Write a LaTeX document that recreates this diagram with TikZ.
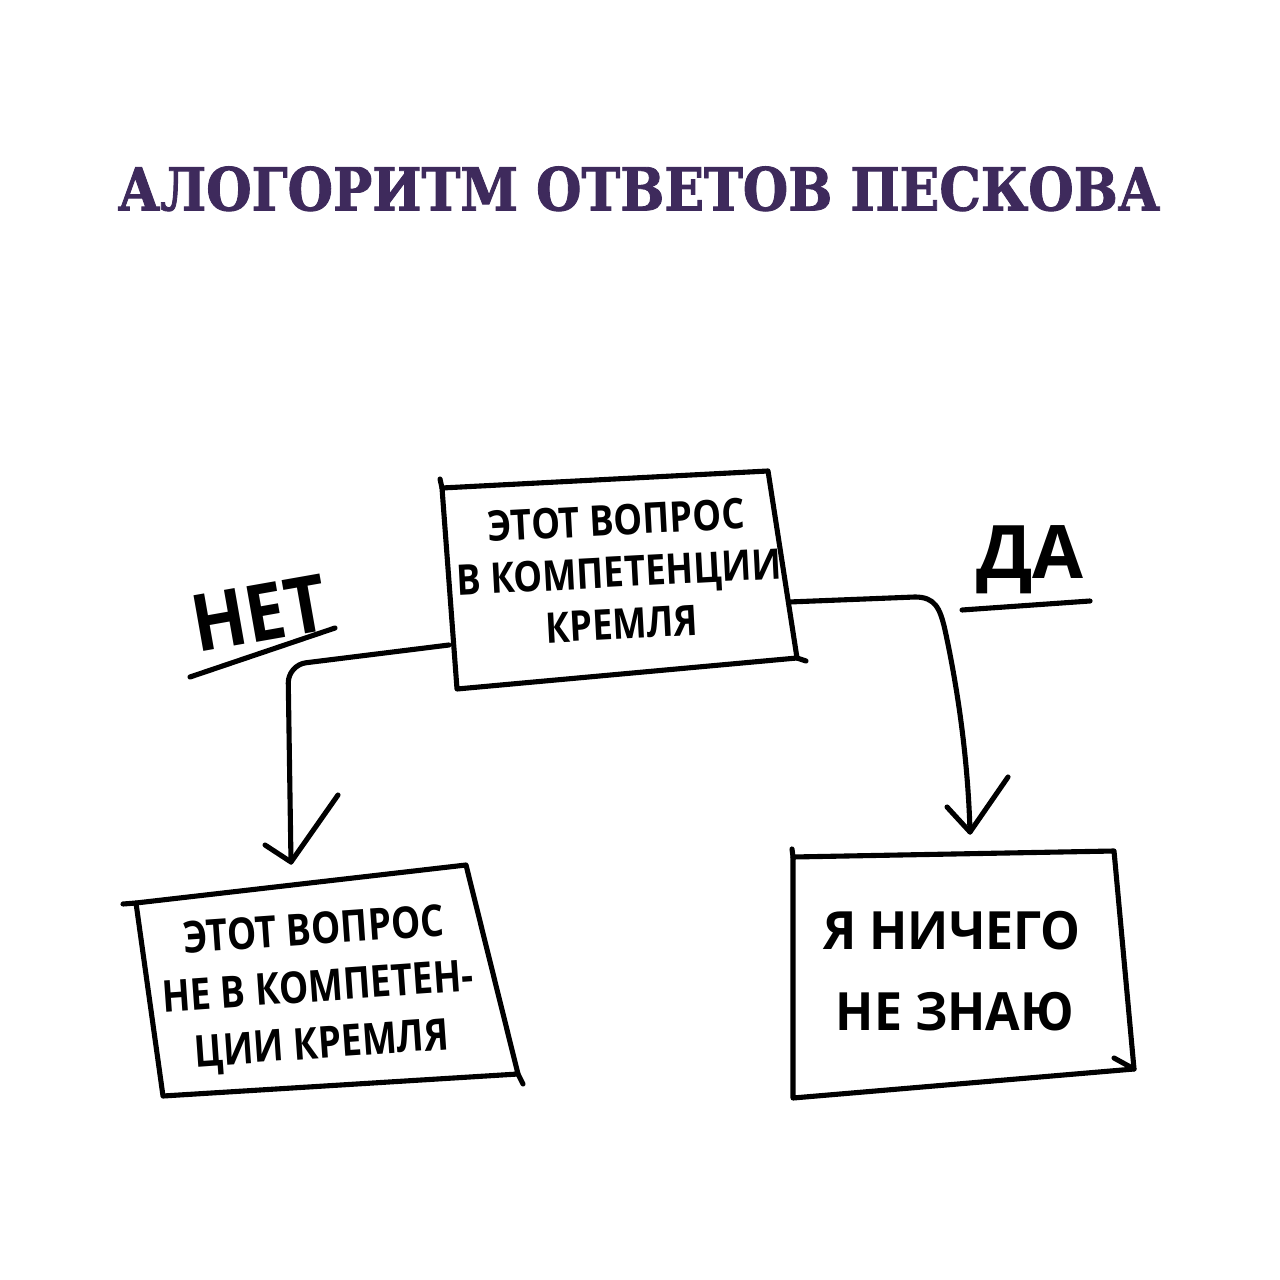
\documentclass[tikz,border=0pt]{standalone}
\usepackage{fontspec}
\usepackage{graphicx}
\newfontfamily\titlefont[FakeBold=1.5]{DejaVu Serif Condensed}
\newfontfamily\hand{Open Sans}
\definecolor{titlecol}{HTML}{3E2A5C}
\tikzset{
  x=0.01cm, y=-0.01cm,
  box/.style={line width=1.45pt, line cap=round, line join=round},
  link/.style={line width=1.45pt, line cap=round, line join=round},
  hw/.style={inner sep=0pt, align=center, font=\hand\bfseries},
}
\begin{document}
\begin{tikzpicture}
\useasboundingbox (0,0) rectangle (1280,1280);
% title
\node[inner sep=0pt, text=titlecol, anchor=south] (title) at (639,212)
  {\resizebox{10.42cm}{0.44cm}{\titlefont\bfseries АЛОГОРИТМ ОТВЕТОВ ПЕСКОВА}};

% top box
\coordinate (qTL) at (442,488); \coordinate (qTR) at (768,471);
\coordinate (qBR) at (797,658); \coordinate (qBL) at (457,689);
\draw[box] (qTL) -- (qTR) -- (qBR) -- (qBL) -- cycle;
\draw[box] (qTL) -- (440,479);
\draw[box] (qBR) -- (806,661);
\node[hw, rotate=3, xscale=0.86, font=\hand\bfseries\fontsize{12}{14.8}\selectfont] (q) at (619,572)
  {ЭТОТ ВОПРОС\\В КОМПЕТЕНЦИИ\\КРЕМЛЯ};
\coordinate (qL) at (449,645);
\coordinate (qR) at (789,602);

% left box
\coordinate (nTL) at (136,903); \coordinate (nTR) at (466,865);
\coordinate (nBR) at (518,1074); \coordinate (nBL) at (163,1096);
\draw[box] (nTL) -- (nTR) -- (nBR) -- (nBL) -- cycle;
\draw[box] (nTL) -- (123,904);
\draw[box] (nBR) -- (523,1084);
\node[hw, rotate=4, xscale=0.84, font=\hand\bfseries\fontsize{12.5}{16.2}\selectfont] (no) at (318,990)
  {ЭТОТ ВОПРОС\\НЕ В КОМПЕТЕН-\\ЦИИ КРЕМЛЯ};
\coordinate (nTip) at (291,862);

% right box
\coordinate (yTL) at (793,857); \coordinate (yTR) at (1114,851);
\coordinate (yBR) at (1134,1069); \coordinate (yBL) at (793,1098);
\draw[box] (yTL) -- (yTR) -- (yBR) -- (yBL) -- cycle;
\draw[box] (yTL) -- (792,849);
\draw[box] (1114,1058) -- (yBR);
\node[hw, xscale=0.95, align=left, font=\hand\bfseries\fontsize{15}{23}\selectfont] (yes) at (952,971)
  {Я НИЧЕГО\\\hspace*{0.25em}НЕ ЗНАЮ};
\coordinate (yTip) at (970,832);

% labels
\node[hw, rotate=10, xscale=0.9, font=\hand\bfseries\fontsize{22.5}{24}\selectfont] (net) at (259,613) {НЕТ};
\coordinate (netU1) at (190,677); \coordinate (netU2) at (335,628);
\draw[link] (netU1) -- (netU2);
\node[hw, font=\hand\bfseries\fontsize{21}{24}\selectfont] (da) at (1030,560) {ДА};
\coordinate (daU1) at (962,610); \coordinate (daU2) at (1090,601);
\draw[link] (daU1) -- (daU2);

% connectors
\draw[link, rounded corners=0.18cm] (qL) -- (288,665) -- (nTip);
\draw[link] (265,845) -- (nTip) -- (338,795);
\draw[link] (qR) -- (915,597) .. controls (935,597) and (940,608) .. (945,630)
  .. controls (958,690) and (968,760) .. (yTip);
\draw[link] (947,807) -- (yTip) -- (1008,777);
\end{tikzpicture}
\end{document}
